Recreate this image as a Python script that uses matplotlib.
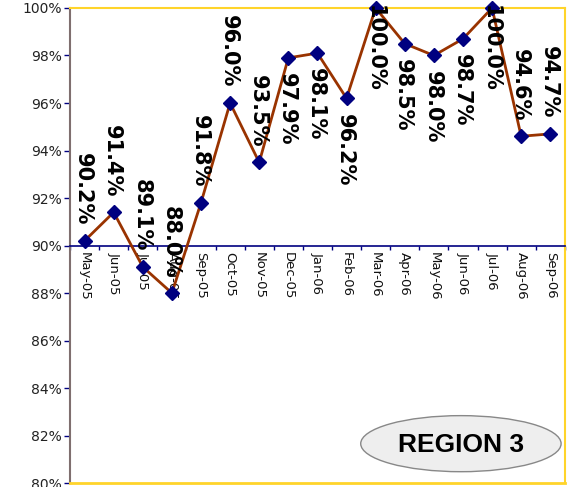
import matplotlib
matplotlib.use('Agg')
import matplotlib.pyplot as plt
from matplotlib.patches import Ellipse

# monthly values (%)
months = ['May-05', 'Jun-05', 'Jul-05', 'Aug-05', 'Sep-05', 'Oct-05', 'Nov-05', 'Dec-05',
          'Jan-06', 'Feb-06', 'Mar-06', 'Apr-06', 'May-06', 'Jun-06', 'Jul-06', 'Aug-06', 'Sep-06']
values = [90.2, 91.4, 89.1, 88.0, 91.8, 96.0, 93.5, 97.9,
          98.1, 96.2, 100.0, 98.5, 98.0, 98.7, 100.0, 94.6, 94.7]
# where each data label sits relative to its point
label_side = ['above', 'above', 'above', 'above', 'above', 'above', 'above', 'below',
              'below', 'below', 'top', 'below', 'below', 'below', 'top', 'above', 'above']
yticks = [80, 82, 84, 86, 88, 90, 92, 94, 96, 98, 100]

fig = plt.figure(figsize=(5.74, 4.87), dpi=100)
ax = fig.add_axes([0.122, 0.008, 0.862, 0.9756])

x = list(range(len(months)))
ax.plot(x, values, color='#993300', lw=2, marker='D', ms=7.5,
        mfc='#000080', mec='#000080', zorder=3, clip_on=False)

# data labels, rotated like the original
for xi, v, side in zip(x, values, label_side):
    txt = '%.1f%%' % v
    if side == 'above':
        off, va = 11, 'bottom'
    elif side == 'below':
        off, va = -11, 'top'
    else:
        off, va = 2, 'top'
    ax.annotate(txt, (xi, v), xytext=(-1, off), textcoords='offset points',
                rotation=-90, ha='center', va=va, fontsize=15, fontweight='bold',
                color='black', zorder=4)

ax.set_xlim(-0.5, len(months) - 0.5)
ax.set_ylim(80, 100)
ax.set_yticks(yticks)
ax.set_yticklabels(['%d%%' % t for t in yticks], fontsize=10, color='#222222')

# category axis crosses at 90%
ax.spines['bottom'].set_position(('data', 90))
ax.spines['bottom'].set_color('#000080')
ax.spines['bottom'].set_linewidth(1.2)
ax.spines['left'].set_color('#7f6f6f')
ax.spines['left'].set_linewidth(1.5)
for s in ['top', 'right']:
    ax.spines[s].set_color('#ffd42a')
    ax.spines[s].set_linewidth(1.5)
ax.axhline(80, color='#ffd42a', lw=2, clip_on=False, zorder=5)

ax.set_xticks(x)
ax.set_xticklabels(months, rotation=-90, fontsize=9.5, color='#111111')
ax.set_xticks([i - 0.5 for i in range(len(months) + 1)], minor=True)
ax.tick_params(axis='x', which='major', length=0, pad=5)
ax.tick_params(axis='x', which='minor', length=3, color='#000080', width=1)
ax.tick_params(axis='y', length=4, color='#000080', width=1, pad=2)

# region badge
ell = Ellipse((0.79, 0.083), 0.405, 0.118, transform=ax.transAxes,
              facecolor='#eeeeee', edgecolor='#888888', lw=1, zorder=6)
ax.add_patch(ell)
ax.text(0.79, 0.081, 'REGION 3', transform=ax.transAxes, ha='center', va='center',
        fontsize=19, fontweight='bold', family='Liberation Sans', zorder=7)

fig.savefig('out.png', dpi=100)
